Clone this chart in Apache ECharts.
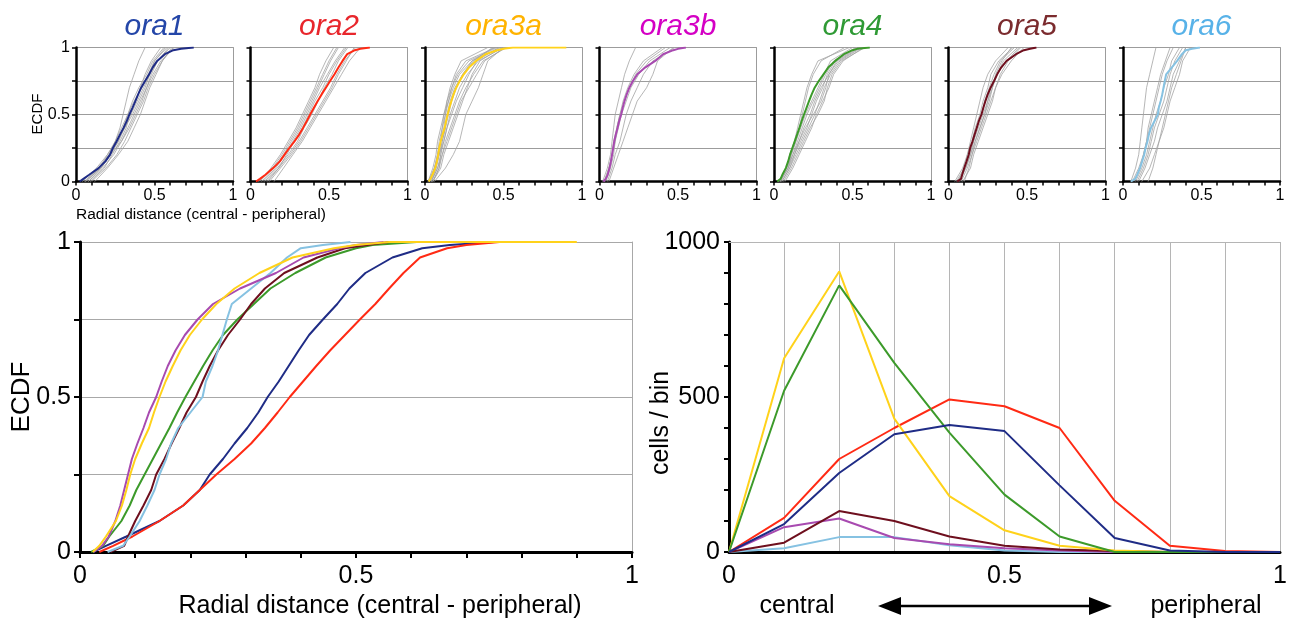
<!DOCTYPE html>
<html>
<head>
<meta charset="utf-8">
<script src="https://cdn.jsdelivr.net/npm/echarts@6/dist/echarts.min.js"></script>
<style>
html,body{margin:0;padding:0;background:#fff;}
#chart{width:1290px;height:621px;}
</style>
</head>
<body>
<div id="chart"></div>
<script>
// ---------------- DATA ----------------
const NAMES = ['ora1', 'ora2', 'ora3a', 'ora3b', 'ora4', 'ora5', 'ora6'];

// ECDF levels (y) and the radial distance (x) at which each line reaches them
const F_LEVELS = [0, 0.02, 0.05, 0.1, 0.15, 0.2, 0.25, 0.3, 0.35, 0.4, 0.45, 0.5, 0.55, 0.6, 0.65, 0.7, 0.75, 0.8, 0.85, 0.9, 0.95, 0.98, 0.99, 1];
const ORA1_X  = [0.023, 0.047, 0.084, 0.144, 0.187, 0.217, 0.235, 0.259, 0.28, 0.303, 0.323, 0.34, 0.36, 0.378, 0.396, 0.415, 0.44, 0.466, 0.488, 0.517, 0.566, 0.62, 0.67, 0.75];
const ORA2_X  = [0.035, 0.06, 0.095, 0.144, 0.187, 0.217, 0.247, 0.28, 0.31, 0.335, 0.358, 0.38, 0.404, 0.428, 0.453, 0.48, 0.507, 0.535, 0.56, 0.586, 0.616, 0.665, 0.70, 0.76];
const ORA3A_X = [0.023, 0.035, 0.047, 0.065, 0.076, 0.084, 0.091, 0.100, 0.112, 0.125, 0.134, 0.144, 0.155, 0.168, 0.182, 0.199, 0.221, 0.247, 0.28, 0.325, 0.385, 0.46, 0.50, 0.56];
const ORA3B_X = [0.025, 0.04, 0.052, 0.064, 0.073, 0.08, 0.087, 0.094, 0.104, 0.115, 0.125, 0.138, 0.148, 0.159, 0.173, 0.19, 0.213, 0.241, 0.29, 0.355, 0.405, 0.47, 0.50, 0.55];
const ORA4_X  = [0.02, 0.042, 0.053, 0.075, 0.09, 0.102, 0.117, 0.132, 0.147, 0.162, 0.176, 0.191, 0.207, 0.223, 0.24, 0.259, 0.285, 0.315, 0.345, 0.39, 0.445, 0.50, 0.53, 0.61];
const ORA5_X  = [0.055, 0.08, 0.087, 0.10, 0.115, 0.129, 0.138, 0.153, 0.166, 0.18, 0.193, 0.21, 0.222, 0.235, 0.25, 0.268, 0.29, 0.31, 0.335, 0.37, 0.43, 0.48, 0.52, 0.56];
const ORA6_X  = [0.05, 0.078, 0.09, 0.108, 0.122, 0.135, 0.144, 0.156, 0.165, 0.178, 0.2, 0.222, 0.228, 0.24, 0.25, 0.258, 0.266, 0.275, 0.31, 0.345, 0.375, 0.40, 0.44, 0.49];
// x where each line ends (flat at ECDF = 1)
const X_END = [0.75, 0.76, 0.90, 0.55, 0.61, 0.56, 0.49];

// individual replicate ECDFs (grey), x at levels 0,0.1,...,1
const GREY_F = [0, 0.1, 0.2, 0.3, 0.4, 0.5, 0.6, 0.7, 0.8, 0.9, 1];
const GREY_ORA1 = [
  [0.05, 0.15, 0.21, 0.25, 0.28, 0.30, 0.32, 0.34, 0.37, 0.40, 0.44],
  [0.06, 0.16, 0.22, 0.27, 0.31, 0.35, 0.39, 0.43, 0.47, 0.52, 0.60],
  [0.08, 0.17, 0.24, 0.29, 0.34, 0.38, 0.42, 0.45, 0.49, 0.54, 0.63],
  [0.07, 0.15, 0.20, 0.26, 0.31, 0.36, 0.40, 0.44, 0.47, 0.50, 0.58],
  [0.10, 0.19, 0.26, 0.31, 0.35, 0.39, 0.43, 0.46, 0.50, 0.55, 0.62],
  [0.04, 0.13, 0.20, 0.25, 0.29, 0.33, 0.37, 0.42, 0.46, 0.50, 0.57],
  [0.09, 0.18, 0.23, 0.28, 0.32, 0.34, 0.38, 0.41, 0.44, 0.48, 0.54],
  [0.12, 0.20, 0.27, 0.33, 0.37, 0.41, 0.44, 0.47, 0.51, 0.55, 0.61],
  [0.06, 0.14, 0.21, 0.27, 0.30, 0.33, 0.36, 0.40, 0.45, 0.49, 0.56],
  [0.08, 0.16, 0.22, 0.29, 0.33, 0.37, 0.41, 0.45, 0.48, 0.52, 0.59]
];
const GREY_ORA2 = [
  [0.06, 0.13, 0.19, 0.24, 0.29, 0.33, 0.37, 0.41, 0.44, 0.48, 0.53],
  [0.08, 0.16, 0.22, 0.27, 0.32, 0.36, 0.40, 0.44, 0.49, 0.54, 0.60],
  [0.10, 0.18, 0.25, 0.31, 0.36, 0.41, 0.46, 0.51, 0.55, 0.60, 0.67],
  [0.15, 0.21, 0.27, 0.33, 0.38, 0.43, 0.48, 0.53, 0.58, 0.63, 0.70],
  [0.07, 0.15, 0.21, 0.26, 0.31, 0.35, 0.39, 0.43, 0.47, 0.51, 0.56],
  [0.09, 0.17, 0.24, 0.30, 0.34, 0.39, 0.43, 0.47, 0.52, 0.56, 0.62],
  [0.12, 0.19, 0.26, 0.32, 0.37, 0.42, 0.47, 0.52, 0.56, 0.61, 0.66],
  [0.05, 0.14, 0.20, 0.25, 0.30, 0.34, 0.38, 0.42, 0.46, 0.50, 0.55],
  [0.11, 0.18, 0.23, 0.28, 0.33, 0.37, 0.41, 0.46, 0.50, 0.55, 0.61]
];
const GREY_ORA3A = [
  [0.02, 0.05, 0.07, 0.08, 0.10, 0.12, 0.14, 0.16, 0.19, 0.23, 0.40],
  [0.03, 0.06, 0.08, 0.10, 0.12, 0.13, 0.15, 0.17, 0.20, 0.26, 0.45],
  [0.04, 0.08, 0.10, 0.12, 0.14, 0.16, 0.19, 0.22, 0.27, 0.34, 0.50],
  [0.05, 0.09, 0.11, 0.13, 0.16, 0.19, 0.22, 0.26, 0.31, 0.37, 0.52],
  [0.03, 0.07, 0.09, 0.11, 0.13, 0.15, 0.17, 0.20, 0.24, 0.30, 0.48],
  [0.06, 0.13, 0.18, 0.22, 0.24, 0.26, 0.30, 0.34, 0.37, 0.40, 0.50],
  [0.04, 0.07, 0.09, 0.10, 0.11, 0.13, 0.14, 0.17, 0.21, 0.28, 0.46],
  [0.05, 0.10, 0.12, 0.15, 0.18, 0.21, 0.24, 0.27, 0.30, 0.35, 0.49],
  [0.02, 0.06, 0.08, 0.09, 0.11, 0.12, 0.15, 0.18, 0.22, 0.30, 0.44],
  [0.04, 0.08, 0.11, 0.14, 0.17, 0.20, 0.23, 0.28, 0.33, 0.38, 0.51],
  [0.03, 0.06, 0.09, 0.12, 0.14, 0.17, 0.20, 0.24, 0.28, 0.33, 0.47],
  [0.05, 0.09, 0.10, 0.11, 0.13, 0.14, 0.16, 0.19, 0.24, 0.31, 0.43]
];
const GREY_ORA3B = [
  [0.02, 0.05, 0.07, 0.08, 0.09, 0.10, 0.12, 0.14, 0.16, 0.19, 0.23],
  [0.03, 0.06, 0.08, 0.09, 0.11, 0.13, 0.15, 0.18, 0.22, 0.28, 0.40],
  [0.04, 0.07, 0.09, 0.10, 0.12, 0.14, 0.17, 0.20, 0.25, 0.32, 0.45],
  [0.05, 0.08, 0.10, 0.13, 0.15, 0.17, 0.20, 0.24, 0.28, 0.34, 0.48],
  [0.06, 0.09, 0.12, 0.15, 0.18, 0.21, 0.24, 0.30, 0.34, 0.37, 0.47],
  [0.03, 0.06, 0.08, 0.10, 0.11, 0.13, 0.16, 0.19, 0.23, 0.30, 0.42]
];
const GREY_ORA4 = [
  [0.03, 0.08, 0.11, 0.14, 0.16, 0.18, 0.20, 0.22, 0.25, 0.30, 0.45],
  [0.04, 0.09, 0.12, 0.16, 0.19, 0.23, 0.26, 0.30, 0.35, 0.41, 0.55],
  [0.05, 0.10, 0.14, 0.18, 0.22, 0.26, 0.29, 0.32, 0.36, 0.42, 0.56],
  [0.04, 0.08, 0.12, 0.15, 0.18, 0.21, 0.25, 0.29, 0.33, 0.38, 0.52],
  [0.06, 0.11, 0.15, 0.19, 0.23, 0.28, 0.32, 0.34, 0.37, 0.43, 0.58],
  [0.03, 0.09, 0.13, 0.17, 0.21, 0.24, 0.27, 0.31, 0.34, 0.39, 0.53],
  [0.05, 0.10, 0.13, 0.16, 0.20, 0.25, 0.30, 0.33, 0.35, 0.40, 0.54],
  [0.04, 0.09, 0.11, 0.14, 0.17, 0.20, 0.24, 0.28, 0.32, 0.36, 0.50],
  [0.07, 0.12, 0.16, 0.20, 0.24, 0.27, 0.31, 0.35, 0.38, 0.44, 0.57],
  [0.03, 0.08, 0.10, 0.13, 0.15, 0.17, 0.19, 0.21, 0.24, 0.28, 0.48]
];
const GREY_ORA5 = [
  [0.04, 0.09, 0.12, 0.14, 0.16, 0.18, 0.20, 0.22, 0.25, 0.30, 0.38],
  [0.06, 0.11, 0.14, 0.17, 0.20, 0.23, 0.26, 0.28, 0.31, 0.35, 0.44],
  [0.08, 0.12, 0.15, 0.18, 0.21, 0.24, 0.27, 0.30, 0.33, 0.38, 0.46],
  [0.05, 0.10, 0.13, 0.16, 0.19, 0.22, 0.25, 0.28, 0.30, 0.34, 0.40],
  [0.09, 0.14, 0.16, 0.19, 0.22, 0.25, 0.28, 0.30, 0.34, 0.40, 0.48],
  [0.07, 0.11, 0.14, 0.16, 0.18, 0.21, 0.23, 0.26, 0.29, 0.33, 0.42],
  [0.10, 0.13, 0.15, 0.17, 0.20, 0.23, 0.25, 0.27, 0.31, 0.37, 0.45],
  [0.06, 0.10, 0.12, 0.15, 0.17, 0.20, 0.22, 0.25, 0.27, 0.32, 0.41]
];
const GREY_ORA6 = [
  [0.05, 0.08, 0.10, 0.11, 0.12, 0.13, 0.14, 0.15, 0.17, 0.19, 0.21],
  [0.06, 0.10, 0.13, 0.15, 0.17, 0.19, 0.21, 0.23, 0.25, 0.28, 0.32],
  [0.08, 0.12, 0.15, 0.17, 0.19, 0.21, 0.24, 0.26, 0.29, 0.31, 0.36],
  [0.10, 0.14, 0.17, 0.20, 0.22, 0.25, 0.28, 0.30, 0.32, 0.36, 0.40],
  [0.12, 0.17, 0.20, 0.23, 0.26, 0.28, 0.30, 0.33, 0.36, 0.38, 0.43],
  [0.07, 0.11, 0.13, 0.15, 0.16, 0.18, 0.20, 0.22, 0.24, 0.27, 0.30],
  [0.16, 0.19, 0.21, 0.23, 0.25, 0.27, 0.29, 0.31, 0.34, 0.37, 0.40],
  [0.09, 0.13, 0.16, 0.18, 0.20, 0.23, 0.26, 0.28, 0.30, 0.33, 0.38]
];

// histogram: cells per bin
const BIN_X = [0, 0.1, 0.2, 0.3, 0.4, 0.5, 0.6, 0.7, 0.8, 0.9, 1];
const HIST_ORA1  = [0, 90, 255, 380, 410, 390, 215, 45, 5, 0, 0];
const HIST_ORA2  = [0, 110, 300, 400, 492, 470, 400, 165, 20, 3, 0];
const HIST_ORA3A = [0, 625, 905, 430, 180, 70, 20, 5, 0, 0, 0];
const HIST_ORA3B = [0, 80, 108, 45, 25, 12, 5, 0, 0, 0, 0];
const HIST_ORA4  = [0, 520, 860, 610, 385, 185, 50, 0, 0, 0, 0];
const HIST_ORA5  = [0, 30, 132, 100, 50, 20, 8, 3, 0, 0, 0];
const HIST_ORA6  = [0, 12, 48, 48, 22, 5, 0, 0, 0, 0, 0];

// ---------------- STYLE ----------------
const LINE_COLORS  = ['#1f2c86', '#ff2a14', '#ffd21a', '#a84ab0', '#3c9a2a', '#6e0f1e', '#86c2e2'];
const TITLE_COLORS = ['#2446a8', '#e8262c', '#ffb300', '#d400c4', '#2f9a35', '#7b2b2e', '#58b2e8'];
const FONT = 'Liberation Sans';

const ECDF_X = [ORA1_X, ORA2_X, ORA3A_X, ORA3B_X, ORA4_X, ORA5_X, ORA6_X];
const GREYS = [GREY_ORA1, GREY_ORA2, GREY_ORA3A, GREY_ORA3B, GREY_ORA4, GREY_ORA5, GREY_ORA6];
const HISTS = [HIST_ORA1, HIST_ORA2, HIST_ORA3A, HIST_ORA3B, HIST_ORA4, HIST_ORA5, HIST_ORA6];

function ecdfData(k) {
  const d = F_LEVELS.map((f, i) => [ECDF_X[k][i], f]);
  if (X_END[k] > ECDF_X[k][ECDF_X[k].length - 1]) d.push([X_END[k], 1]);
  return d;
}
function greyData(arr) { return GREY_F.map((f, i) => [arr[i], f]); }
function near(v, t) { return Math.abs(v - t) < 1e-6; }
const labX = v => (near(v, 0) ? '0' : near(v, 0.5) ? '0.5' : near(v, 1) ? '1' : '');
const labH = v => (near(v, 0) ? '0' : near(v, 500) ? '500' : near(v, 1000) ? '1000' : '');

const SMALL_LEFT = [76, 250.5, 425, 599.5, 774, 948.5, 1123];
const grids = [], xAxes = [], yAxes = [], series = [], graphics = [];

// ---------------- SMALL PANELS ----------------
for (let p = 0; p < 7; p++) {
  grids.push({ left: SMALL_LEFT[p], top: 47.5, width: 157, height: 134 });
  const xi = xAxes.length, yi = yAxes.length;
  xAxes.push({
    gridIndex: p, type: 'value', min: 0, max: 1, interval: 0.1,
    axisLine: { onZero: false, lineStyle: { color: '#000', width: 2.5 } },
    axisTick: { show: true, length: 4, lineStyle: { color: '#000', width: 1.5 } },
    axisLabel: { formatter: labX, fontSize: 16, color: '#000', margin: 6, fontFamily: FONT },
    splitLine: { show: false }
  });
  yAxes.push({
    gridIndex: p, type: 'value', min: 0, max: 1, interval: 0.25,
    axisLine: { show: true, lineStyle: { color: '#000', width: 2.5 } },
    axisTick: { show: true, length: 4, lineStyle: { color: '#000', width: 1.5 } },
    axisLabel: { show: p === 0, formatter: labX, fontSize: 16, color: '#000', margin: 6, fontFamily: FONT },
    splitLine: { show: true, lineStyle: { color: '#9c9c9c', width: 1 } }
  });
  yAxes.push({
    gridIndex: p, type: 'value', min: 0, max: 1, position: 'right',
    axisLine: { show: true, lineStyle: { color: '#9c9c9c', width: 1 } },
    axisTick: { show: false }, axisLabel: { show: false }, splitLine: { show: false }
  });
  GREYS[p].forEach(g => series.push({
    type: 'line', xAxisIndex: xi, yAxisIndex: yi, data: greyData(g),
    showSymbol: false, silent: true, lineStyle: { color: '#a3a3a3', width: 0.8 }
  }));
  series.push({
    type: 'line', xAxisIndex: xi, yAxisIndex: yi, data: ecdfData(p),
    showSymbol: false, lineStyle: { color: LINE_COLORS[p], width: 2 }
  });
  graphics.push({
    type: 'text', x: SMALL_LEFT[p] + 78.5, y: 27,
    style: { text: NAMES[p], fill: TITLE_COLORS[p], font: 'italic 30px "Liberation Sans"', textAlign: 'center', textVerticalAlign: 'middle' }
  });
}

// ---------------- BIG ECDF ----------------
const gBig = grids.length;
grids.push({ left: 80, top: 242, width: 552, height: 310 });
const xBig = xAxes.length, yBig = yAxes.length;
xAxes.push({
  gridIndex: gBig, type: 'value', min: 0, max: 1, interval: 0.1,
  axisLine: { onZero: false, lineStyle: { color: '#000', width: 3 } },
  axisTick: { show: true, length: 6, lineStyle: { color: '#000', width: 2 } },
  axisLabel: { formatter: labX, fontSize: 25, color: '#000', margin: 12, fontFamily: FONT },
  splitLine: { show: false }
});
yAxes.push({
  gridIndex: gBig, type: 'value', min: 0, max: 1, interval: 0.25,
  axisLine: { show: true, lineStyle: { color: '#000', width: 3 } },
  axisTick: { show: true, length: 6, lineStyle: { color: '#000', width: 2 } },
  axisLabel: { formatter: labX, fontSize: 25, color: '#000', margin: 9, fontFamily: FONT },
  splitLine: { show: true, lineStyle: { color: '#a8a8a8', width: 1 } }
});
yAxes.push({
  gridIndex: gBig, type: 'value', min: 0, max: 1, position: 'right',
  axisLine: { show: true, lineStyle: { color: '#a8a8a8', width: 1 } },
  axisTick: { show: false }, axisLabel: { show: false }, splitLine: { show: false }
});
[0, 1, 4, 5, 6, 3, 2].forEach(k => series.push({
  type: 'line', name: NAMES[k], xAxisIndex: xBig, yAxisIndex: yBig, data: ecdfData(k),
  showSymbol: false, lineStyle: { color: LINE_COLORS[k], width: 2 }
}));

// ---------------- HISTOGRAM ----------------
const gH = grids.length;
grids.push({ left: 729, top: 242, width: 551, height: 310 });
const xH = xAxes.length, yH = yAxes.length;
xAxes.push({
  gridIndex: gH, type: 'value', min: 0, max: 1, interval: 0.1,
  axisLine: { onZero: false, lineStyle: { color: '#000', width: 3 } },
  axisTick: { show: false },
  axisLabel: { formatter: labX, fontSize: 25, color: '#000', margin: 12, fontFamily: FONT },
  splitLine: { show: true, lineStyle: { color: '#b5b5b5', width: 1 } }
});
xAxes.push({
  gridIndex: gH, type: 'value', min: 0, max: 1, position: 'top',
  axisLine: { show: true, onZero: false, lineStyle: { color: '#b5b5b5', width: 1 } },
  axisTick: { show: false }, axisLabel: { show: false }, splitLine: { show: false }
});
yAxes.push({
  gridIndex: gH, type: 'value', min: 0, max: 1000, interval: 100,
  axisLine: { show: true, lineStyle: { color: '#000', width: 3 } },
  axisTick: { show: true, length: 5, lineStyle: { color: '#000', width: 2 } },
  axisLabel: { formatter: labH, fontSize: 25, color: '#000', margin: 9, fontFamily: FONT },
  splitLine: { show: false }
});
[6, 3, 5, 1, 2, 4, 0].forEach(k => series.push({
  type: 'line', name: NAMES[k] + ' bins', xAxisIndex: xH, yAxisIndex: yH,
  data: BIN_X.map((x, i) => [x, HISTS[k][i]]),
  showSymbol: false, lineStyle: { color: LINE_COLORS[k], width: 2 }
}));

// ---------------- TEXT & ARROW ----------------
const F = s => s + 'px "Liberation Sans"';
graphics.push(
  { type: 'text', x: 76, y: 215, style: { text: 'Radial distance (central - peripheral)', fill: '#000', font: F(15.5), textAlign: 'left', textVerticalAlign: 'middle' } },
  { type: 'text', x: 38, y: 114, rotation: Math.PI / 2, style: { text: 'ECDF', fill: '#000', font: F(15), textAlign: 'center', textVerticalAlign: 'middle' } },
  { type: 'text', x: 22, y: 397, rotation: Math.PI / 2, style: { text: 'ECDF', fill: '#000', font: F(26), textAlign: 'center', textVerticalAlign: 'middle' } },
  { type: 'text', x: 380, y: 606, style: { text: 'Radial distance (central - peripheral)', fill: '#000', font: F(25), textAlign: 'center', textVerticalAlign: 'middle' } },
  { type: 'text', x: 661, y: 423, rotation: Math.PI / 2, style: { text: 'cells / bin', fill: '#000', font: F(25), textAlign: 'center', textVerticalAlign: 'middle' } },
  { type: 'text', x: 797, y: 606, style: { text: 'central', fill: '#000', font: F(25), textAlign: 'center', textVerticalAlign: 'middle' } },
  { type: 'text', x: 1206, y: 606, style: { text: 'peripheral', fill: '#000', font: F(25), textAlign: 'center', textVerticalAlign: 'middle' } },
  { type: 'line', shape: { x1: 895, y1: 606, x2: 1095, y2: 606 }, style: { stroke: '#000', lineWidth: 2.5 } },
  { type: 'polygon', shape: { points: [[878, 606], [901, 597], [901, 615]] }, style: { fill: '#000' } },
  { type: 'polygon', shape: { points: [[1112, 606], [1089, 597], [1089, 615]] }, style: { fill: '#000' } }
);

const chart = echarts.init(document.getElementById('chart'), null, { renderer: 'canvas' });
chart.setOption({
  animation: false,
  backgroundColor: '#fff',
  textStyle: { fontFamily: FONT },
  grid: grids, xAxis: xAxes, yAxis: yAxes, series: series, graphic: graphics
});
</script>
</body>
</html>
